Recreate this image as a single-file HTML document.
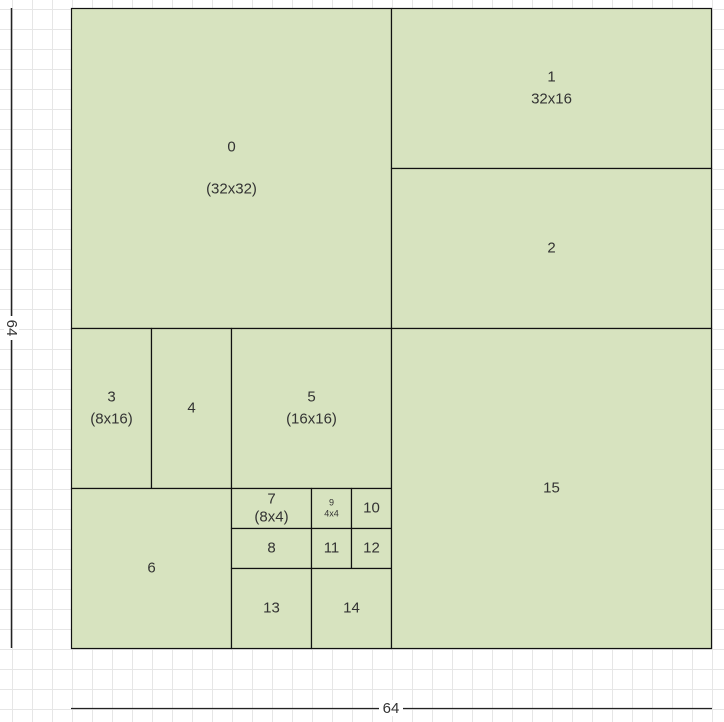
<!DOCTYPE html>
<html><head><meta charset="utf-8"><style>
html,body{margin:0;padding:0;background:#fff;}
svg{display:block;font-family:"Liberation Sans",Arial,sans-serif;}
</style></head><body>
<svg id="c" width="724" height="722">
<g id="grid"></g>
<g id="blocks"></g>
<g>
<line x1="11.5" y1="8" x2="11.5" y2="648" stroke="#222" stroke-width="1.5"/>
<rect x="4" y="316" width="15" height="24" fill="#fff"/>
<text x="11" y="328" font-size="15" fill="#333" text-anchor="middle" dominant-baseline="middle" transform="rotate(90 11 328)">64</text>
</g>
<g>
<line x1="71" y1="708.5" x2="712" y2="708.5" stroke="#222" stroke-width="1.2"/>
<rect x="379" y="700" width="24" height="16" fill="#fff"/>
<text x="391" y="709" font-size="15" fill="#333" text-anchor="middle" dominant-baseline="middle">64</text>
</g>
</svg>
<script>
const blockIds=["0","1","2","3","4","5","6","7","8","9","10","11","12","13","14","15"];
const blockX=[0,32,32,0,8,16,0,16,16,24,28,24,28,16,24,32];
const blockY=[0,0,16,32,32,32,48,48,52,48,48,52,52,56,56,32];
const blockW=[32,32,32,8,8,16,16,8,8,4,4,4,4,8,8,32];
const blockH=[32,16,16,16,16,16,16,4,4,4,4,4,4,8,8,32];
const blockSub=["(32x32)","32x16","","(8x16)","","(16x16)","","(8x4)","","4x4","","","","","",""];
const NS="http://www.w3.org/2000/svg";
const X0=71.5,Y0=8.5,U=10;
const sx=v=>X0+v*U, sy=v=>Y0+v*U;
const grid=document.getElementById('grid');
for(let x=12;x<724;x+=20){const l=document.createElementNS(NS,'line');l.setAttribute('x1',x+.5);l.setAttribute('x2',x+.5);l.setAttribute('y1',0);l.setAttribute('y2',722);l.setAttribute('stroke','#e6e6e6');grid.appendChild(l);}
for(let y=9;y<722;y+=20){const l=document.createElementNS(NS,'line');l.setAttribute('y1',y+.5);l.setAttribute('y2',y+.5);l.setAttribute('x1',0);l.setAttribute('x2',724);l.setAttribute('stroke','#e6e6e6');grid.appendChild(l);}
const g=document.getElementById('blocks');
for(let i=0;i<blockIds.length;i++){
 const r=document.createElementNS(NS,'rect');
 
 
 r.setAttribute('x',sx(blockX[i]));r.setAttribute('y',sy(blockY[i]));
 r.setAttribute('width',blockW[i]*U);r.setAttribute('height',blockH[i]*U);
 r.setAttribute('fill','#d7e3bf');r.setAttribute('stroke','#111');r.setAttribute('stroke-width','1.2');
 g.appendChild(r);
}
for(let i=0;i<blockIds.length;i++){
 const cx=sx(blockX[i]+blockW[i]/2), cy=sy(blockY[i]+blockH[i]/2);
 const small=blockW[i]<=4&&blockSub[i];
 const fs=small?9:15;
 const t=document.createElementNS(NS,'text');
 
 
 t.setAttribute('x',cx);t.setAttribute('font-size',fs);t.setAttribute('fill','#333');
 t.setAttribute('text-anchor','middle');t.setAttribute('dominant-baseline','middle');
 let gap=blockH[i]>=32?42:(blockH[i]>=16?22:(small?11:18));
 if(blockSub[i]){t.setAttribute('y',cy-gap/2);}else t.setAttribute('y',cy);
 t.textContent=blockIds[i];
 g.appendChild(t);
 if(blockSub[i]){
  const s=document.createElementNS(NS,'text');
  
  
  s.setAttribute('x',cx);s.setAttribute('y',cy+gap/2);s.setAttribute('font-size',fs);s.setAttribute('fill','#333');
  s.setAttribute('text-anchor','middle');s.setAttribute('dominant-baseline','middle');
  s.textContent=blockSub[i];
  g.appendChild(s);
 }
}
</script>
</body></html>
